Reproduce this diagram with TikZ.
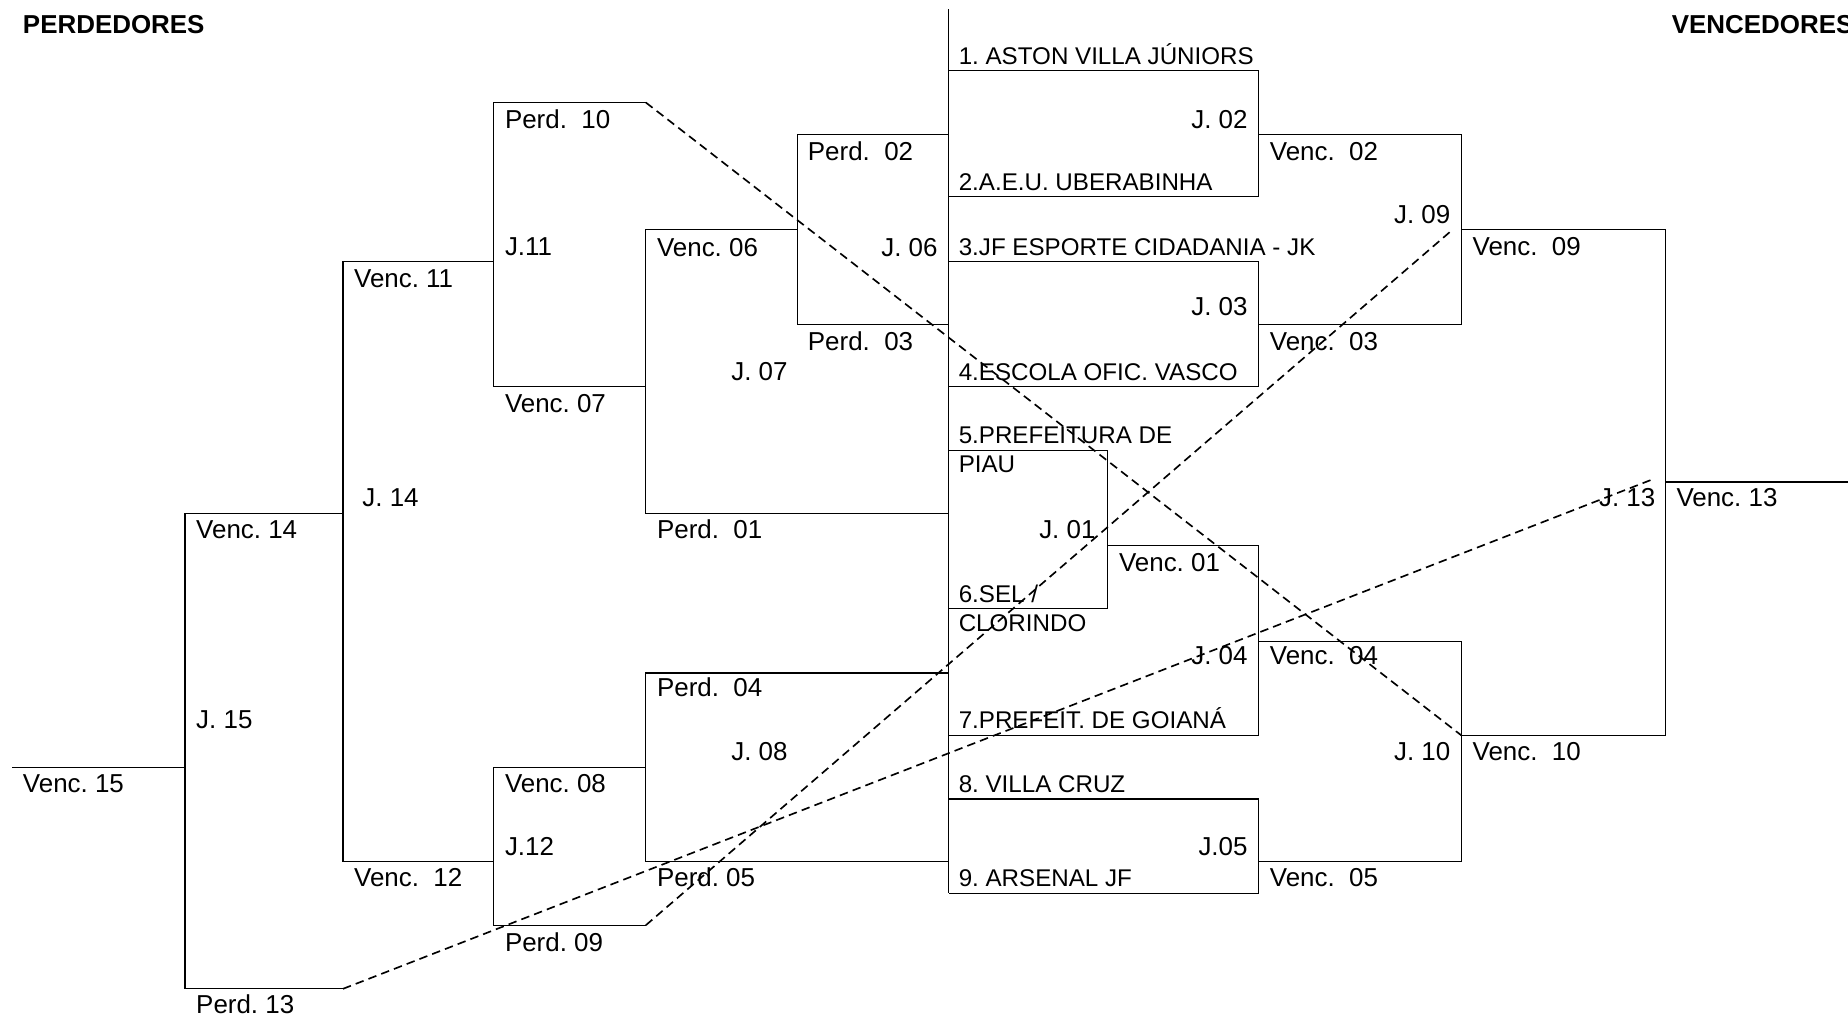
\documentclass[tikz,border=0pt]{standalone}
\usepackage{fontspec}
\setmainfont{Liberation Sans}
\begin{document}
\begin{tikzpicture}[x=0.5pt,y=-0.5pt,line width=0.5pt,
    rotulo/.style={anchor=base west,inner sep=0pt,font=\fontsize{11}{13}\selectfont\frenchspacing},
    equipe/.style={rotulo,font=\fontsize{10.25}{12}\selectfont\frenchspacing},
    jogo/.style={rotulo,anchor=base east},
    titulo/.style={rotulo,font=\fontsize{11}{13}\selectfont\bfseries},
    ligacao/.style={line width=0.7pt,dash pattern=on 3.6pt off 2.2pt}]
  \useasboundingbox (0,0) rectangle (1568,863);
  % chaves
  \draw (805,8) -- (805,758);
  \foreach \xa/\xb/\ya/\yb/\xc in {805/1068/60/167/805, 805/1068/222/328/805,
      805/940/382/516/805, 940/1068/463/624/805, 805/1068/678/758/805,
      1068/1240/114/275/1068, 1068/1240/544/731/1068, 1240/1413/195/624/1240,
      805/677/114/275/805, 677/548/195/436/805, 548/419/87/328/548,
      805/548/571/731/805, 548/419/651/785/548, 419/291/222/731/419,
      291/157/436/839/291}
    \draw (\xa,\ya) -| (\xb,\yb) -- (\xc,\yb);
  \draw (1413,409) -- (1568,409);
  \draw (157,651) -- (10,651);
  % titulos
  \node[titulo] (perdedores) at (19,28) {PERDEDORES};
  \node[titulo] (vencedores) at (1418,28) {VENCEDORES};
  % equipes
  \foreach \n/\y/\t in {e1/55/{1. ASTON VILLA JÚNIORS}, e2/162/{2.A.E.U. UBERABINHA},
      e3/217/{3.JF ESPORTE CIDADANIA - JK}, e4/323/{4.ESCOLA OFIC. VASCO},
      e5/376/{5.PREFEITURA DE}, e5b/401/{PIAU}, e6/511/{6.SEL /}, e6b/536/{CLORINDO},
      e7/618/{7.PREFEIT. DE GOIANÁ}, e8/672/{8. VILLA CRUZ}, e9/752/{9. ARSENAL JF}}
    \node[equipe] (\n) at (813,\y) {\t};
  % jogos
  \foreach \n/\x/\y/\t in {j02/1059/109/{J. 02}, j03/1059/268/{J. 03}, j01/930/457/{J. 01},
      j04/1059/564/{J. 04}, j05/1059/726/{J.05}, j09/1231/190/{J. 09},
      j10/1231/645/{J. 10}, j13/1405/430/{J. 13}, j06/796/218/{J. 06}}
    \node[jogo] (\n) at (\x,\y) {\t};
  \foreach \n/\x/\y/\t in {j07/620/323/{J. 07}, j08/620/645/{J. 08}, j11/428/217/{J.11},
      j12/428/726/{J.12}, j14/307/430/{J. 14}, j15/166/618/{J. 15}}
    \node[rotulo] (\n) at (\x,\y) {\t};
  % vencedores e perdedores
  \foreach \n/\x/\y/\t in {v02/1077/136/{Venc.~~02}, v03/1077/297/{Venc.~~03},
      v01/949/485/{Venc. 01}, v04/1077/564/{Venc.~~04}, v05/1077/752/{Venc.~~05},
      v09/1249/217/{Venc.~~09}, v10/1249/645/{Venc.~~10}, v13/1422/430/{Venc. 13},
      p02/685/136/{Perd.~~02}, p03/685/297/{Perd.~~03}, v06/557/218/{Venc. 06},
      p01/557/457/{Perd.~~01}, p10/428/109/{Perd.~~10}, v07/428/350/{Venc. 07},
      v11/300/244/{Venc. 11}, v14/166/457/{Venc. 14}, p04/557/591/{Perd.~~04},
      p05/557/752/{Perd. 05}, v08/428/672/{Venc. 08}, p09/428/807/{Perd. 09},
      v12/300/752/{Venc.~~12}, p13/166/860/{Perd. 13}, v15/19/672/{Venc. 15}}
    \node[rotulo] (\n) at (\x,\y) {\t};
  % ligacoes dos perdedores
  \coordinate (perd10) at (548,87);
  \coordinate (perd09) at (548,785);
  \coordinate (perd13) at (291,839);
  \coordinate (jogo10) at (1240,624);
  \coordinate (jogo09) at (1230,197);
  \coordinate (jogo13) at (1404,406);
  \draw[ligacao] (perd10) -- (jogo10);
  \draw[ligacao] (perd09) -- (jogo09);
  \draw[ligacao] (perd13) -- (jogo13);
\end{tikzpicture}
\end{document}
